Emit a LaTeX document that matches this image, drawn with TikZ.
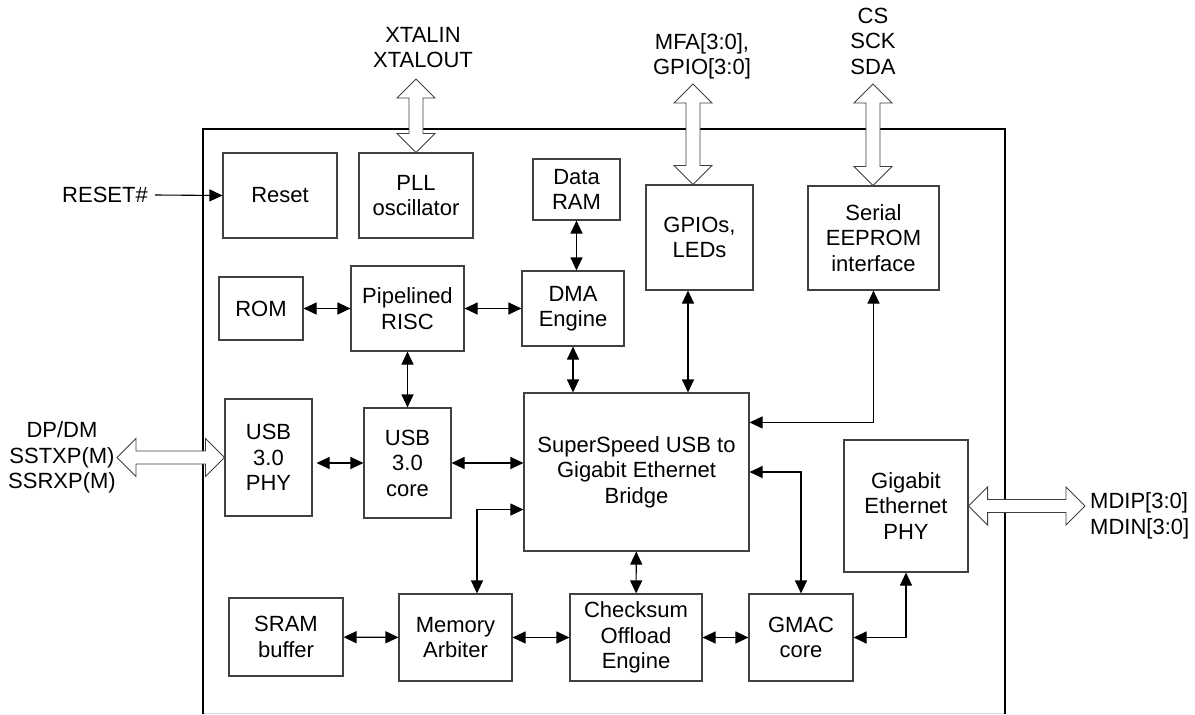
\documentclass[tikz,border=0pt]{standalone}
\usepackage{fontspec}
\setmainfont{Liberation Sans}
\usetikzlibrary{arrows.meta}
\usetikzlibrary{calc}

% hollow double bus arrows
\newcommand{\vbus}[2]{%
  \draw[bus] let \p1=(#1), \p2=(#1 |- #2) in
    (\x2,\y2) -- ++(19pt,19pt) -- ++(-12pt,0pt) -- (\x1+7pt,\y1-19pt) -- ++(12pt,0pt)
    -- (\x1,\y1) -- ++(-19pt,-19pt) -- ++(12pt,0pt) -- (\x2-7pt,\y2+19pt) -- ++(-12pt,0pt) -- cycle;}
\newcommand{\hbus}[2]{%
  \draw[bus] let \p1=(#1), \p2=(#2 |- #1) in
    (\x1,\y1) -- ++(19pt,19pt) -- ++(0pt,-12.5pt) -- (\x2-19pt,\y2+6.5pt) -- ++(0pt,12.5pt)
    -- (\x2,\y2) -- ++(-19pt,-19pt) -- ++(0pt,12.5pt) -- (\x1+19pt,\y1-6.5pt) -- ++(0pt,-12.5pt) -- cycle;}

\begin{document}
\begin{tikzpicture}[x=1pt,y=-1pt,font=\fontsize{22}{25.5}\selectfont,
		block/.style={draw=black!75,line width=1.1pt,align=center,inner sep=0pt},
		sig/.style={line width=1.1pt,{Triangle[length=13pt,width=12pt]}-{Triangle[length=13pt,width=12pt]}},
		sigin/.style={line width=1.1pt,-{Triangle[length=13pt,width=12pt]}},
		bus/.style={draw=black!75,fill=white,line width=0.9pt},
		pin/.style={align=center,inner sep=0pt}]
		
		\useasboundingbox (0,0) rectangle (1195,715);
		
		% chip outline
		\draw[black!15] (203,713) -- (1005,713);
		\draw[line width=1.6pt] (203,714) -- (203,129) -- (1005,129) -- (1005,714);
		
		% blocks
		\node[block,minimum width=114,minimum height=85] (reset) at (280,195.5) {Reset};
		\node[block,minimum width=114,minimum height=85] (pll) at (416,195.5) {PLL\\oscillator};
		\node[block,minimum width=87,minimum height=61] (ram) at (576.5,189.5) {Data\\RAM};
		\node[block,minimum width=107,minimum height=105] (gpio) at (699.5,237.5) {GPIOs,\\LEDs};
		\node[block,minimum width=131,minimum height=104] (eeprom) at (873.5,238) {Serial\\EEPROM\\interface};
		\node[block,minimum width=84,minimum height=63] (rom) at (261,308.5) {ROM};
		\node[block,minimum width=113,minimum height=85] (risc) at (407.5,308.5) {Pipelined\\RISC};
		\node[block,minimum width=102,minimum height=75] (dma) at (573,308.5) {DMA\\Engine};
		\node[block,minimum width=87,minimum height=117] (phy) at (268.5,457.5) {USB\\3.0\\PHY};
		\node[block,minimum width=87,minimum height=110] (core) at (407.5,463) {USB\\3.0\\core};
		\node[block,minimum width=225,minimum height=158] (bridge) at (636.5,472) {SuperSpeed USB to\\Gigabit Ethernet\\Bridge};
		\node[block,minimum width=124,minimum height=132] (gphy) at (906,506) {Gigabit\\Ethernet\\PHY};
		\node[block,minimum width=114,minimum height=78] (sram) at (286,637) {SRAM\\buffer};
		\node[block,minimum width=113,minimum height=87] (arb) at (455.5,637.5) {Memory\\Arbiter};
		\node[block,minimum width=132,minimum height=87] (csum) at (636,637.5) {Checksum\\Offload\\Engine};
		\node[block,minimum width=104,minimum height=87] (gmac) at (801,637.5) {GMAC\\core};
		
		% pins
		\node[pin] (xtal) at (423,47.5) {XTALIN\\XTALOUT};
		\node[pin] (mfa) at (702,56.5) {MFA[3:0],\\GPIO[3:0]};
		\node[pin] (spi) at (873,41) {CS\\SCK\\SDA};
		\node[pin,anchor=east,inner xsep=7pt] (resetin) at (155,195) {RESET\#};
		\node[pin] (usbpins) at (62,457.5) {DP/DM\\SSTXP(M)\\SSRXP(M)};
		\node[pin,anchor=west,align=left] (mdi) at (1090,516) {MDIP[3:0]\\MDIN[3:0]};
		
		\coordinate (xtaltip) at (416,79);
		\coordinate (mfatip) at (693,84);
		\coordinate (spitip) at (873,84);
		\coordinate (usbtip) at (117,457.5);
		\coordinate (mditip) at (1085,506);
		\coordinate (gpiolink) at ($(gpio.south)+(-11.5,0)$);
		
		\vbus{xtaltip}{pll.north}
		\vbus{mfatip}{gpio.north}
		\vbus{spitip}{eeprom.north}
		\hbus{usbtip}{phy.west}
		\hbus{gphy.east}{mditip}
		
		% internal links
		\draw[sigin] (resetin.east) -- (reset.west);
		\draw[sig] (rom) -- (risc);
		\draw[sig] (risc) -- (dma);
		\draw[sig] (ram.south) -- (ram.south |- dma.north);
		\draw[sig] (risc) -- (core);
		\draw[sig] (dma.south) -- (dma.south |- bridge.north);
		\draw[sig] (gpiolink) -- (gpiolink |- bridge.north);
		\draw[sig] (eeprom.south) |- ($(bridge.north east)+(0,30)$);
		\draw[sig,shorten <=4pt] (phy.east |- core.west) -- (core.west);
		\draw[sig] (core.east) -- (core.east -| bridge.west);
		\draw[sig] ($(bridge.south west)+(0,-42)$) -| ($(arb.north)+(21.5,0)$);
		\draw[sig] (bridge) -- (csum);
		\draw[sig] (bridge.east) -| (gmac.north);
		\draw[sig] (sram) -- (arb);
		\draw[sig] (arb) -- (csum);
		\draw[sig] (csum) -- (gmac);
		\draw[sig] (gmac.east) -| (gphy.south);
		
\end{tikzpicture}
\end{document}
